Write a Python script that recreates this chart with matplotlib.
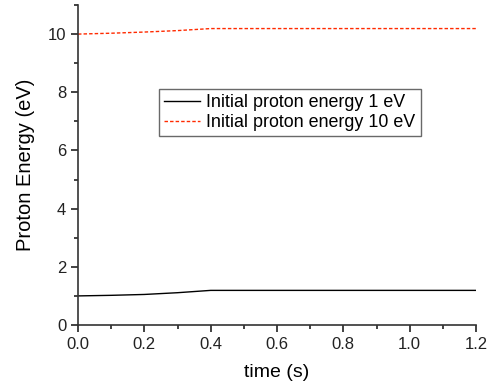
import numpy as np
import matplotlib.pyplot as plt
from matplotlib.ticker import MultipleLocator

plt.rcParams['font.family'] = ['Liberation Sans', 'DejaVu Sans']

# data
time_s = [0.0, 0.1, 0.2, 0.3, 0.4, 0.6, 0.8, 1.0, 1.2]
energy_1ev = [1.0, 1.02, 1.05, 1.11, 1.19, 1.19, 1.19, 1.19, 1.19]
energy_10ev = [10.0, 10.03, 10.07, 10.12, 10.19, 10.19, 10.19, 10.19, 10.19]

fig = plt.figure(figsize=(4.94, 3.89), dpi=100)
ax = fig.add_axes([78 / 494, 1 - 325 / 389, (476 - 78) / 494, (325 - 5) / 389])

ax.plot(time_s, energy_1ev, color='black', lw=1.0, label='Initial proton energy 1 eV')
ax.plot(time_s, energy_10ev, color='#ff2a00', lw=1.0, ls=(0, (2.5, 1.5)),
        label='Initial proton energy 10 eV')

ax.set_xlim(0, 1.2)
ax.set_ylim(0, 11)
ax.xaxis.set_major_locator(MultipleLocator(0.2))
ax.xaxis.set_minor_locator(MultipleLocator(0.1))
ax.yaxis.set_major_locator(MultipleLocator(2))
ax.yaxis.set_minor_locator(MultipleLocator(1))
ax.set_xticklabels([f'{v:.1f}' for v in ax.get_xticks()])

for s in ['top', 'right']:
    ax.spines[s].set_visible(False)
for s in ['left', 'bottom']:
    ax.spines[s].set_linewidth(1.2)
    ax.spines[s].set_color('#333333')

ax.tick_params(which='major', direction='out', length=5, width=1.2, labelsize=12, colors='#222222')
ax.tick_params(which='minor', direction='out', length=3, width=1.2, colors='#222222')

ax.set_xlabel('time (s)', fontsize=14, labelpad=9)
ax.set_ylabel('Proton Energy (eV)', fontsize=14.5, labelpad=9)

leg = ax.legend(loc='upper left', bbox_to_anchor=((159 - 78) / 398, 1 - (89 - 5) / 320),
                fontsize=12.9, frameon=True, fancybox=False, borderpad=0.3,
                handlelength=2.0, handletextpad=0.35, labelspacing=0.15, borderaxespad=0)
leg.get_frame().set_edgecolor('#444444')
leg.get_frame().set_linewidth(1.0)

fig.savefig('out.png', dpi=100)
